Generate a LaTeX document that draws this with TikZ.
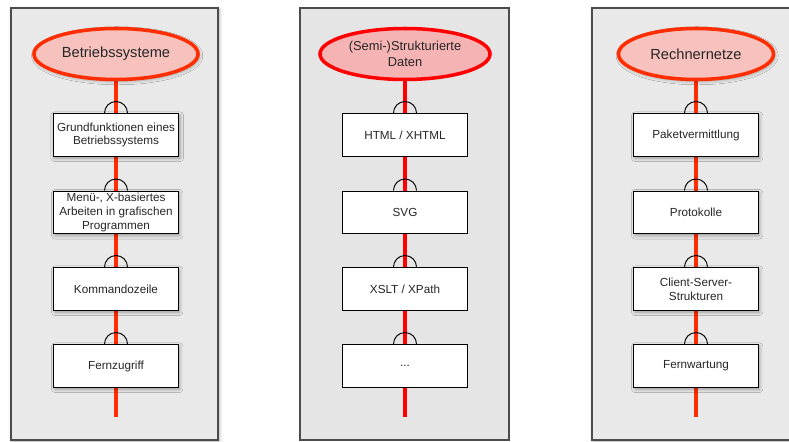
\documentclass[tikz,border=0pt]{standalone}
\usepackage{fontspec}
\setmainfont{Liberation Sans}
\usetikzlibrary{shapes.geometric, shadows.blur, backgrounds}
\definecolor{PanelGray}{HTML}{E9E9E9}
\definecolor{PanelGrayB}{HTML}{E5E5E5}
\definecolor{TopicRose}{HTML}{F7C2BD}
\definecolor{TopicRoseB}{HTML}{F5B3B3}
\definecolor{Thread}{HTML}{FF2D00}

\begin{document}
\begin{tikzpicture}[x=0.03cm, y=0.03cm, font=\fontsize{10}{11.8}\selectfont, text=black!85,
    panel/.style={draw=black!70, line width=0.9pt, fill=PanelGray},
    topic/.style={ellipse, draw=Thread, line width=3pt, fill=TopicRose, minimum width=4.65cm, minimum height=1.53cm, align=center, font=\fontsize{12.5}{14}\selectfont},
    item/.style={rectangle, draw=black, line width=1.1pt, fill=white, minimum width=3.73cm, minimum height=1.28cm, inner ysep=0.5pt, align=center},
    thread/.style={Thread, line width=3.4pt},
    socket/.style={draw=black, line width=0.8pt},
    shade/.style={blur shadow={shadow xshift=1pt, shadow yshift=-1.5pt, shadow blur radius=3pt, shadow opacity=35}}]
    \useasboundingbox (0, 0) rectangle (789, 441);

    % Betriebssysteme
    \node[topic, shade] (bs) at (116, 387) {Betriebssysteme};
    \node[item, shade] (bs1) at (116, 306) {Grundfunktionen eines\\Betriebssystems};
    \node[item, shade] (bs2) at (116, 228.5) {Menü-, X-basiertes\\Arbeiten in grafischen\\Programmen};
    \node[item, shade] (bs3) at (116, 152) {Kommandozeile};
    \node[item, shade] (bs4) at (116, 75) {Fernzugriff};
    \coordinate (bsend) at (116, 24);

    % (Semi-)Strukturierte Daten
    \node[topic, draw=red, fill=TopicRoseB, font=\fontsize{11}{13}\selectfont] (sd) at (405, 387) {(Semi-)Strukturierte\\Daten};
    \node[item] (sd1) at (405, 306) {HTML / XHTML};
    \node[item] (sd2) at (405, 228.5) {SVG};
    \node[item] (sd3) at (405, 152) {XSLT / XPath};
    \node[item] (sd4) at (405, 75) {...};
    \coordinate (sdend) at (405, 24);

    % Rechnernetze
    \node[topic, shade] (rn) at (696, 387) {Rechnernetze};
    \node[item, shade] (rn1) at (696, 306) {Paketvermittlung};
    \node[item, shade] (rn2) at (696, 228.5) {Protokolle};
    \node[item, shade] (rn3) at (696, 152) {Client-Server-\\Strukturen};
    \node[item, shade] (rn4) at (696, 75) {Fernwartung};
    \coordinate (rnend) at (696, 24);

    \foreach \n in {bs1, bs2, bs3, bs4, sd1, sd2, sd3, sd4, rn1, rn2, rn3, rn4} {
        \draw[socket] (\n.north) ++(-11.5, 0) arc[start angle=180, end angle=0, radius=11.5];
    }

    \begin{pgfonlayer}{background}
        \draw[panel, shade] (11, 1) rectangle (218, 433);
        \draw[panel, fill=PanelGrayB] (300, 1) rectangle (509, 433);
        \draw[panel, shade] (592, 1) rectangle (800, 433);
        \draw[thread] (bs.south) -- (bsend);
        \draw[thread, red] (sd.south) -- (sdend);
        \draw[thread] (rn.south) -- (rnend);
    \end{pgfonlayer}
\end{tikzpicture}
\end{document}
